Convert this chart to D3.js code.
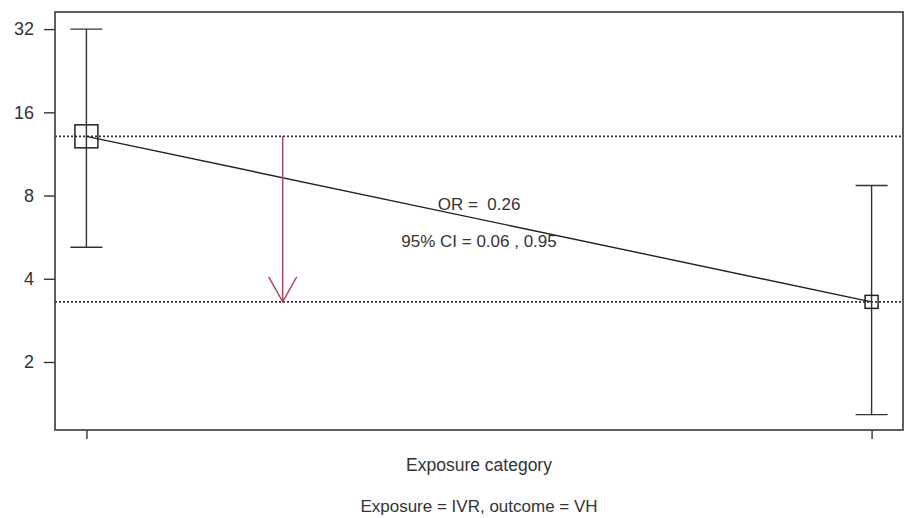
<!DOCTYPE html>
<html>
<head>
<meta charset="utf-8">
<script src="https://cdn.jsdelivr.net/npm/d3@7"></script>
<style>
  html, body { margin: 0; padding: 0; background: #fff; }
  svg { display: block; font-family: "Liberation Sans", Arial, sans-serif; }
  text { fill: #333; white-space: pre; }
</style>
</head>
<body>
<svg id="chart" width="908" height="518"></svg>
<script>
// exposure categories (positions on x) and their estimates
const categories = [1, 2];
const estimates = [13.1, 3.3];
const lowerCI = [5.2, 1.29];
const upperCI = [32, 8.7];
const yTicks = [2, 4, 8, 16, 32];
const annotations = ["OR =  0.26", "95% CI = 0.06 , 0.95"];
const annotationY = [7.45, 5.48];
const arrowX = 1.25;

var margin = { top: 12, right: 5, bottom: 88, left: 55 };
var width = 908, height = 518;

var svg = d3.select('#chart');

// x: R-style 4% padding around categories
var x = d3.scaleLinear()
  .domain([0.96, 2.04])
  .range([margin.left, width - margin.right]);

var y = d3.scaleLog().base(2)
  .domain([1.135, 36.9])
  .range([height - margin.bottom, margin.top]);

// dotted reference lines at each estimate
svg.append('g').selectAll('line')
  .data(estimates).enter()
  .append('line')
  .attr('x1', margin.left)
  .attr('x2', width - margin.right)
  .attr('y1', d => y(d))
  .attr('y2', d => y(d))
  .attr('stroke', '#333')
  .attr('stroke-width', 1.6)
  .attr('stroke-dasharray', '2,2');

// error bars
var bars = svg.append('g').selectAll('g')
  .data(categories).enter()
  .append('g')
  .attr('stroke', '#333')
  .attr('stroke-width', 1.4);

bars.append('line')
  .attr('x1', d => x(d)).attr('x2', d => x(d))
  .attr('y1', (d, i) => y(upperCI[i]))
  .attr('y2', (d, i) => y(lowerCI[i]));
bars.append('line')
  .attr('x1', d => x(d) - 16).attr('x2', d => x(d) + 16)
  .attr('y1', (d, i) => y(upperCI[i]))
  .attr('y2', (d, i) => y(upperCI[i]));
bars.append('line')
  .attr('x1', d => x(d) - 16).attr('x2', d => x(d) + 16)
  .attr('y1', (d, i) => y(lowerCI[i]))
  .attr('y2', (d, i) => y(lowerCI[i]));

// line joining the estimates
var line = d3.line()
  .x(d => x(d[0]))
  .y(d => y(d[1]));
svg.append('path')
  .attr('d', line(categories.map((c, i) => [c, estimates[i]])))
  .attr('fill', 'none')
  .attr('stroke', '#222')
  .attr('stroke-width', 1.4);

// boxes (size by weight)
var boxSize = [23, 13];
svg.append('g').selectAll('rect')
  .data(categories).enter()
  .append('rect')
  .attr('x', (d, i) => x(d) - boxSize[i] / 2)
  .attr('y', (d, i) => y(estimates[i]) - boxSize[i] / 2)
  .attr('width', (d, i) => boxSize[i])
  .attr('height', (d, i) => boxSize[i])
  .attr('fill', 'none')
  .attr('stroke', '#222')
  .attr('stroke-width', 1.5);

// red arrow from first estimate down to second
var ax = x(arrowX), ay0 = y(estimates[0]), ay1 = y(estimates[1]);
var arrow = svg.append('g')
  .attr('stroke', '#a84258')
  .attr('stroke-width', 1.4)
  .attr('fill', 'none');
arrow.append('line')
  .attr('x1', ax).attr('x2', ax)
  .attr('y1', ay0).attr('y2', ay1);
arrow.append('path')
  .attr('d', `M${ax - 14},${ay1 - 25}L${ax},${ay1}L${ax + 14},${ay1 - 25}`);

// annotations
svg.append('g').selectAll('text')
  .data(annotations).enter()
  .append('text')
  .attr('x', x(1.5))
  .attr('y', (d, i) => y(annotationY[i]))
  .attr('dy', '0.35em')
  .attr('text-anchor', 'middle')
  .style('font-size', '17px')
  .text(d => d);

// y axis
var yAxis = d3.axisLeft(y)
  .tickValues(yTicks)
  .tickFormat(d3.format('d'))
  .tickSize(11)
  .tickPadding(10);
var gy = svg.append('g')
  .attr('transform', `translate(${margin.left},0)`)
  .call(yAxis);
gy.select('.domain').remove();
gy.selectAll('line').attr('stroke', '#333').attr('stroke-width', 1.4);
gy.selectAll('text').style('font-size', '18px').attr('fill', '#333');

// x axis: ticks only
var xAxis = d3.axisBottom(x)
  .tickValues(categories)
  .tickFormat('')
  .tickSize(9);
var gx = svg.append('g')
  .attr('transform', `translate(0,${height - margin.bottom})`)
  .call(xAxis);
gx.select('.domain').remove();
gx.selectAll('line').attr('stroke', '#333').attr('stroke-width', 1.4);

// box around plot
svg.append('rect')
  .attr('x', margin.left)
  .attr('y', margin.top)
  .attr('width', width - margin.left - margin.right)
  .attr('height', height - margin.top - margin.bottom)
  .attr('fill', 'none')
  .attr('stroke', '#444')
  .attr('stroke-width', 1.7);

// titles
svg.append('text')
  .attr('x', x(1.5))
  .attr('y', 465)
  .attr('dy', '0.35em')
  .attr('text-anchor', 'middle')
  .style('font-size', '17.5px')
  .text('Exposure category');

svg.append('text')
  .attr('x', x(1.5))
  .attr('y', 506)
  .attr('dy', '0.35em')
  .attr('text-anchor', 'middle')
  .style('font-size', '17px')
  .text('Exposure = IVR, outcome = VH');
</script>
</body>
</html>
